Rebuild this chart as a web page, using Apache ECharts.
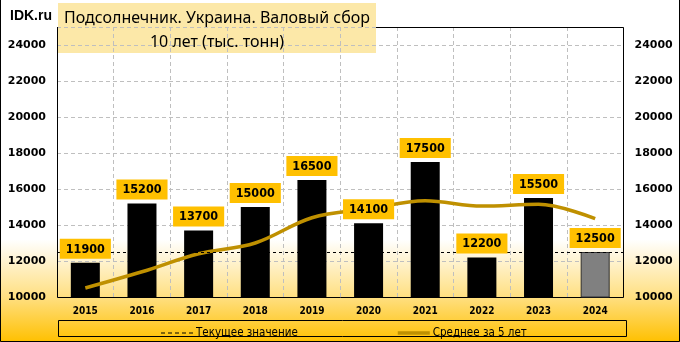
<!DOCTYPE html>
<html>
<head>
<meta charset="utf-8">
<script src="https://cdn.jsdelivr.net/npm/echarts@6/dist/echarts.min.js"></script>
<style>
html,body{margin:0;padding:0;background:#fff;}
#c{width:680px;height:342px;}
</style>
</head>
<body>
<div id="c"></div>
<script>
const years = ['2015','2016','2017','2018','2019','2020','2021','2022','2023','2024'];
const production = [11900,15200,13700,15000,16500,14100,17500,12200,15500,12500];
const avg5 = [10500,11400,12400,13000,14400,14900,15350,15050,15150,14350];
const currentValue = 12500;
const yMin = 10000, yMax = 25000, yStep = 2000;
const seriesNames = ['Текущее значение','Среднее за 5 лет'];
const titleLines = ['Подсолнечник. Украина. Валовый сбор','10 лет (тыс. тонн)'];

const chart = echarts.init(document.getElementById('c'), null, {renderer:'canvas'});
const lastIdx = production.length - 1;
const yLabel = v => (v === yMax ? '' : String(v));
const axisFont = {fontFamily:'DejaVu Sans', fontWeight:'bold', fontSize:11, color:'#000'};

// plot frame geometry
const G = {left:57, top:27, right:623.5, bottom:297};

const dashIcon = 'path://M0,0M32,12M0,5.5h4v1h-4zM7,5.5h4v1h-4zM14,5.5h4v1h-4zM21,5.5h4v1h-4zM28,5.5h4v1h-4z';
const solidIcon = 'path://M0,0M32,12M0,4.2h32v3.6h-32z';

chart.setOption({
  animation:false,
  backgroundColor:{type:'linear',x:0,y:0,x2:0,y2:1,colorStops:[
    {offset:0,color:'#ffffff'},{offset:0.7,color:'#ffffff'},{offset:0.87,color:'#FFDF80'},{offset:1,color:'#FFC000'}]},
  grid:{left:G.left,right:680-G.right,top:G.top,bottom:342-G.bottom,show:false},
  legend:{
    left:156, top:322, itemGap:100, itemWidth:32, itemHeight:12,
    data:[{name:seriesNames[0], icon:dashIcon},{name:seriesNames[1], icon:solidIcon}],
    textStyle:{fontFamily:'DejaVu Sans Condensed', fontSize:11.5, color:'#000', padding:[0,0,0,-2]}
  },
  xAxis:{
    type:'category', data:years,
    axisLine:{show:false}, axisTick:{show:false},
    splitLine:{show:true, interval:0, lineStyle:{color:'#BFBFBF', type:[4,3]}},
    axisLabel:{fontFamily:'DejaVu Sans Condensed', fontWeight:'bold', fontSize:10, color:'#000', margin:9, interval:0}
  },
  yAxis:[
    {type:'value', min:yMin, max:yMax, interval:yStep, position:'left',
     axisLine:{show:false}, axisTick:{show:false},
     splitLine:{show:true, lineStyle:{color:'#BFBFBF', type:[4,3]}},
     axisLabel:Object.assign({margin:11, formatter:yLabel}, axisFont)},
    {type:'value', min:yMin, max:yMax, interval:yStep, position:'right',
     axisLine:{show:false}, axisTick:{show:false}, splitLine:{show:false},
     axisLabel:Object.assign({margin:11, formatter:yLabel, align:'left'}, axisFont)}
  ],
  series:[
    {name:seriesNames[0], type:'line', data:years.map(()=>null), symbol:'none', z:1,
     lineStyle:{color:'#000', width:1, type:[3,3]}, itemStyle:{color:'#000'},
     markLine:{silent:true, symbol:'none', label:{show:false},
       lineStyle:{color:'#000', width:1, type:[3,3]},
       data:[{yAxis:currentValue}]}},
    {name:'bars', type:'bar', barWidth:29, z:2, silent:true,
     data:production.map((v,i)=> i===lastIdx
       ? {value:v, itemStyle:{color:'#808080', borderColor:'#303030', borderWidth:1}}
       : {value:v, itemStyle:{color:'#000'}})},
    {name:seriesNames[1], type:'line', data:avg5, symbol:'none', smooth:0.35, z:4,
     lineStyle:{color:'#BF9000', width:3.5}, itemStyle:{color:'#BF9000'}},
    {name:'labels', type:'bar', barWidth:29, barGap:'-100%', z:6, silent:true,
     itemStyle:{color:'transparent'},
     data:production,
     label:{show:true, position:'top', distance:4,
       backgroundColor:'#FFC000', padding:[4,6,3,6],
       fontFamily:'DejaVu Sans Condensed', fontWeight:'bold', fontSize:12.5, color:'#000'}}
  ],
  graphic:[
    {type:'polyline', z:1, silent:true,
     shape:{points:[[376,G.top+0.5],[G.right,G.top+0.5],[G.right,G.bottom+0.5],[G.left+0.5,G.bottom+0.5],[G.left+0.5,G.top]]},
     style:{fill:'none', stroke:'#000', lineWidth:1}},
    {type:'rect', z:-5, shape:{x:58,y:3,width:318,height:50},
     style:{fill:'#FCE8A8'}, silent:true},
    {type:'text', z:10, x:217, y:18, style:{text:titleLines[0], fill:'#000', font:'16px "Noto Sans"', textAlign:'center', textVerticalAlign:'middle'}},
    {type:'text', z:10, x:217, y:42, style:{text:titleLines[1], fill:'#000', font:'16px "Noto Sans"', textAlign:'center', textVerticalAlign:'middle'}},
    {type:'text', z:10, x:10, y:16, style:{text:'IDK.ru', fill:'#000', font:'bold 14px "Liberation Sans"', textVerticalAlign:'middle'}},
    {type:'rect', z:10, shape:{x:58.5,y:320.5,width:568,height:16}, style:{fill:'none', stroke:'#000', lineWidth:1}, silent:true},
    {type:'polyline', z:10, shape:{points:[[0.5,0],[0.5,341.5],[679.5,341.5],[679.5,0]]}, style:{fill:'none', stroke:'#000', lineWidth:1}, silent:true}
  ]
});
</script>
</body>
</html>
